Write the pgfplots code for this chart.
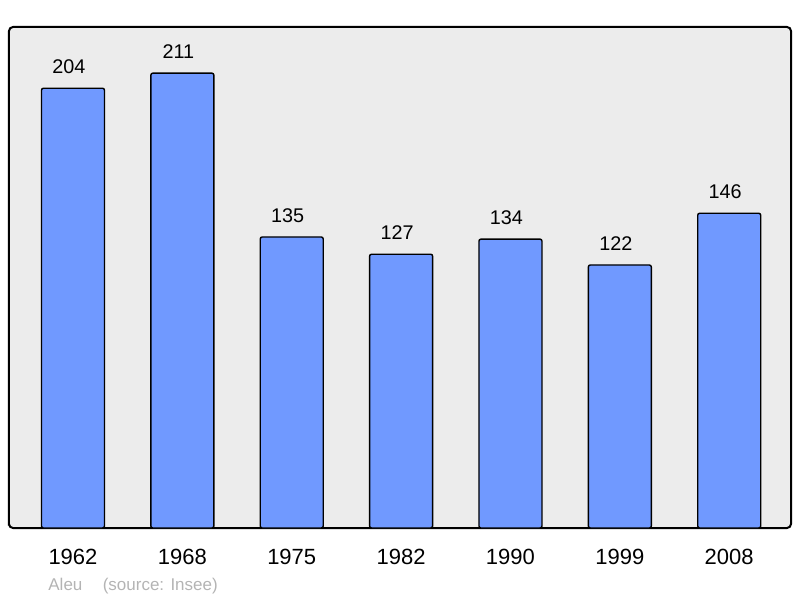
\documentclass[border=0pt]{standalone}
\usepackage{pgfplots}
\pgfplotsset{compat=1.18}
\usepackage{fontspec}
\setmainfont{Liberation Sans}
\definecolor{barblue}{HTML}{7099FF}
\definecolor{bgray}{HTML}{ECECEC}
\definecolor{foot}{HTML}{B4B4B4}

\begin{document}
\begin{tikzpicture}
\begin{axis}[
    scale only axis,
    width=391pt, height=250.5pt,
    xmin=-0.585, xmax=6.565,
    ymin=0, ymax=232.4,
    xtick=data,
    xticklabels={1962,1968,1975,1982,1990,1999,2008},
    ytick=\empty,
    major tick length=0pt,
    xticklabel style={font=\fontsize{11}{13}\selectfont, inner sep=0pt, yshift=-10.5pt},
    /pgf/number format/assume math mode=true,
    axis background/.style={fill=bgray},
    axis line style={line width=1pt, rounded corners=2pt},
    clip=false,
]
\addplot[ybar, bar width=31.5pt, fill=barblue, draw=black, line width=0.7pt,
    rounded corners=1pt,
    nodes near coords,
    every node near coord/.append style={font=\fontsize{9.9}{12}\selectfont, anchor=south, inner sep=0pt, yshift=7pt, xshift=-2pt, rounded corners=0pt}]
    coordinates {(0,204) (1,211) (2,135) (3,127) (4,134) (5,122) (6,146)};
\end{axis}
\node[anchor=west, text=foot, font=\fontsize{8.5}{10}\selectfont, inner sep=0pt] at ([xshift=19.5pt, yshift=-29pt]current axis.south west) {Aleu\hspace{1.2em}(source: Insee)};
\path[use as bounding box] ([xshift=-4.5pt, yshift=-35pt]current axis.south west) rectangle ([xshift=4.5pt, yshift=13.5pt]current axis.north east);
\end{tikzpicture}
\end{document}
